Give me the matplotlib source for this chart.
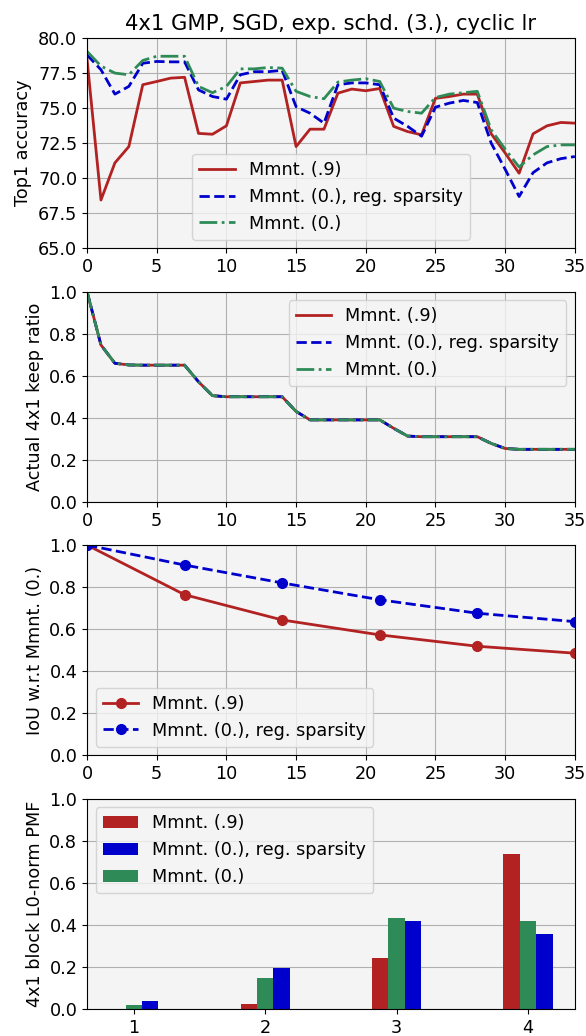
import numpy as np
import matplotlib
matplotlib.use("Agg")
import matplotlib.pyplot as plt

# epochs
epochs = list(range(36))

# top1 accuracy per epoch
acc_m9 = [78.5, 68.45, 71.1, 72.26, 76.67, 76.9, 77.14, 77.2, 73.2, 73.14, 73.74,
          76.8, 76.9, 77.0, 77.0, 72.26, 73.5, 73.5, 76.07, 76.36, 76.24, 76.4,
          73.7, 73.33, 73.1, 75.7, 75.83, 76.0, 76.0, 73.17, 71.8, 70.36, 73.17,
          73.74, 73.98, 73.93]
acc_m0_reg = [78.8, 77.74, 76.0, 76.55, 78.2, 78.33, 78.3, 78.3, 76.3, 75.83, 75.64,
              77.38, 77.6, 77.6, 77.7, 75.1, 74.64, 73.93, 76.67, 76.8, 76.8, 76.67,
              74.29, 73.7, 73.0, 75.07, 75.36, 75.55, 75.4, 72.5, 70.64, 68.7, 70.4,
              71.1, 71.4, 71.55]
acc_m0 = [79.05, 78.0, 77.5, 77.38, 78.4, 78.7, 78.7, 78.7, 76.55, 76.1, 76.55,
          77.8, 77.8, 77.9, 77.85, 76.2, 75.83, 75.67, 76.86, 77.0, 77.1, 76.9,
          75.0, 74.76, 74.64, 75.76, 76.0, 76.1, 76.2, 73.45, 72.07, 70.8, 71.67,
          72.26, 72.38, 72.38]
acc_ticks = [65.0, 67.5, 70.0, 72.5, 75.0, 77.5, 80.0]

# actual keep ratio (same for all runs)
keep_ratio = [1.0, 0.746, 0.659, 0.651, 0.65, 0.65, 0.65, 0.65, 0.571, 0.505, 0.5,
              0.5, 0.5, 0.5, 0.5, 0.43, 0.39, 0.39, 0.39, 0.39, 0.39, 0.39,
              0.35, 0.313, 0.31, 0.31, 0.31, 0.31, 0.31, 0.278, 0.254, 0.25, 0.25,
              0.25, 0.25, 0.25]

# IoU w.r.t Mmnt. (0.)
iou_epochs = [0, 7, 14, 21, 28, 35]
iou_m9 = [1.0, 0.764, 0.644, 0.573, 0.519, 0.486]
iou_m0_reg = [1.0, 0.905, 0.82, 0.74, 0.676, 0.636]

# block L0-norm PMF
l0_norm = [1, 2, 3, 4]
pmf_m9 = [0.0, 0.025, 0.24, 0.735]
pmf_m0_reg = [0.04, 0.195, 0.42, 0.355]
pmf_m0 = [0.02, 0.145, 0.43, 0.42]

red = '#b22222'
blue = '#0000cd'
green = '#2e8b57'
lab9 = 'Mmnt. (.9)'
labreg = 'Mmnt. (0.), reg. sparsity'
lab0 = 'Mmnt. (0.)'

plt.rcParams['font.size'] = 12.7
plt.rcParams['axes.facecolor'] = '#f4f4f4'

fig, axes = plt.subplots(4, 1, figsize=(5.86, 10.36), dpi=100)
fig.subplots_adjust(left=0.1485, right=0.981, top=0.9633, bottom=0.0261, hspace=0.205)

ax = axes[0]
ax.plot(epochs, acc_m9, color=red, lw=2, label=lab9)
ax.plot(epochs, acc_m0_reg, color=blue, lw=2, ls='--', label=labreg)
ax.plot(epochs, acc_m0, color=green, lw=2, ls='-.', label=lab0)
ax.set_xlim(0, 35)
ax.set_ylim(65, 80)
ax.set_yticks(acc_ticks)
ax.set_ylabel('Top1 accuracy')
ax.set_title('4x1 GMP, SGD, exp. schd. (3.), cyclic lr')
ax.grid(True)
ax.legend(loc='lower center')

ax = axes[1]
ax.plot(epochs, keep_ratio, color=red, lw=2, label=lab9)
ax.plot(epochs, keep_ratio, color=blue, lw=2, ls='--', label=labreg)
ax.plot(epochs, keep_ratio, color=green, lw=2, ls='-.', label=lab0)
ax.set_xlim(0, 35)
ax.set_ylim(0, 1)
ax.set_ylabel('Actual 4x1 keep ratio')
ax.grid(True)
ax.legend(loc='upper right')

ax = axes[2]
ax.plot(iou_epochs, iou_m9, color=red, lw=2, marker='o', ms=7, label=lab9)
ax.plot(iou_epochs, iou_m0_reg, color=blue, lw=2, ls='--', marker='o', ms=7, label=labreg)
ax.set_xlim(0, 35)
ax.set_ylim(0, 1)
ax.set_ylabel('IoU w.r.t Mmnt. (0.)')
ax.grid(True)
ax.legend(loc='lower left')

ax = axes[3]
w = 0.125
x = np.array(l0_norm)
ax.bar(x - w, pmf_m9, width=w, color=red, label=lab9)
ax.bar(x + w, pmf_m0_reg, width=w, color=blue, label=labreg)
ax.bar(x, pmf_m0, width=w, color=green, label=lab0)
ax.set_xticks(l0_norm)
ax.set_ylim(0, 1)
ax.set_ylabel('4x1 block L0-norm PMF')
ax.grid(True, axis='y')
ax.set_axisbelow(True)
ax.legend(loc='upper left')

plt.savefig('out.png', dpi=100)
